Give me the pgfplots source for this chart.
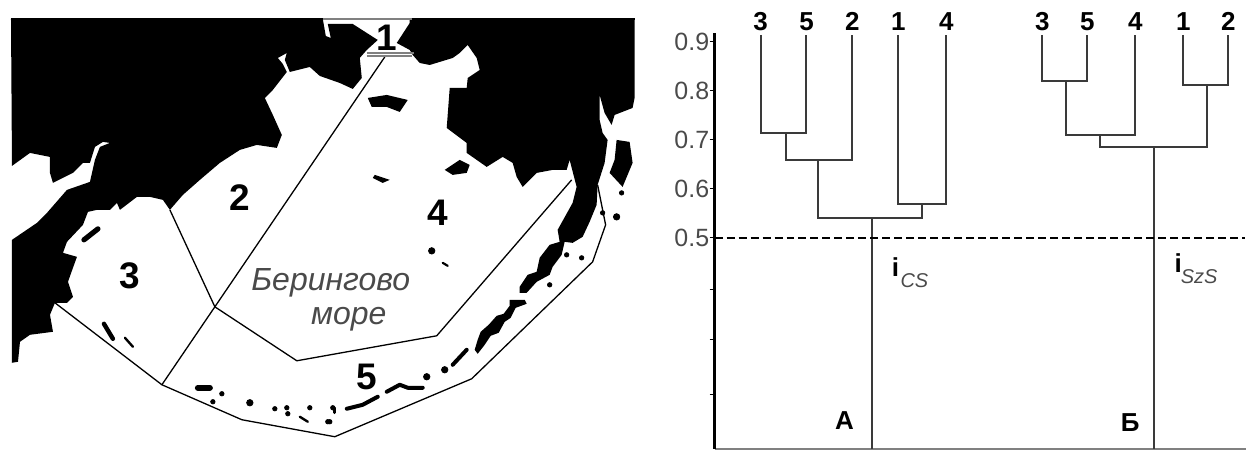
\documentclass[border=0pt]{standalone}
\usepackage{fontspec}
\setmainfont{Liberation Sans}
\usepackage{pgfplots}
\pgfplotsset{compat=1.18}
\definecolor{ln}{HTML}{3A3A3A}
\definecolor{tx}{HTML}{4A4A4A}
\newcommand{\fs}[1]{\fontsize{#1}{#1}\selectfont}
\begin{document}
\begin{tikzpicture}
\begin{axis}[name=map,at={(0pt,0pt)},anchor=south west,scale only axis,width=623.5pt,height=225pt,
 xmin=0,xmax=1247,ymin=0,ymax=450,y dir=reverse,hide axis,clip=false]
\path (axis cs:0,0) rectangle (axis cs:1247,450);
% land
\addplot[fill=black,draw=none] coordinates {
(11,19)(323,19)(326,36)(331,38)(328,24)(353,24)(378,40)(367,50)(360,58)(362,78)(353,89)(340,83)(320,76)
(310,67)(290,72)(285,60)(287,53)(278,58)(283,64)(287,72)(273,90)(265,98)(273,115)(282,135)(277,148)
(257,145)(240,150)(220,163)(200,180)(183,195)(170,210)(163,200)(150,197)(137,197)(120,210)(117,203)
(110,210)(97,210)(88,212)(83,225)(67,242)(63,253)(77,257)(73,268)(68,282)(73,297)(67,303)(55,303)
(50,315)(53,332)(30,335)(20,342)(18,362)(12,363)(12,240)(37,223)(47,213)(67,190)(90,182)(95,160)
(100,147)(110,143)(103,142)(95,147)(90,163)(83,163)(73,173)(53,183)(50,173)(50,157)(30,153)(12,166)} --cycle;
\addplot[fill=black,draw=none] coordinates {
(410,19)(635,19)(635,98)(633,108)(615,115)(612,125)(605,113)(600,95)(600,120)(603,133)(608,140)(605,163)
(598,185)(597,205)(590,222)(583,237)(573,243)(565,242)(562,255)(553,267)(550,275)(537,282)(527,293)(520,293)(520,287)
(528,275)(537,272)(540,258)(550,245)(560,242)(558,230)(573,203)(577,187)(570,160)(567,170)(553,170)
(537,173)(523,187)(517,177)(513,163)(503,157)(487,167)(467,153)(467,143)(447,128)(450,88)(467,88)
(468,78)(480,70)(477,58)(468,45)(460,53)(453,58)(430,65)(420,63)(413,55)(410,50)(397,43)(410,23)} --cycle;
% islands
\addplot[fill=black,draw=none] coordinates {(368,98)(387,95)(408,100)(400,112)(387,107)(372,107)} --cycle;
\addplot[fill=black,draw=none] coordinates {(445,170)(460,160)(470,165)(467,173)(453,175)} --cycle;
\addplot[fill=black,draw=none] coordinates {(375,175)(390,180)(383,183)(373,178)} --cycle;
\addplot[fill=black,draw=none] coordinates {(617,140)(630,142)(633,163)(623,187)(610,173)(615,160)} --cycle;
\addplot[fill=black,draw=none] coordinates {(510,300)(525,300)(527,304)(516,308)(511,318)(505,322)(499,333)(491,336)(485,345)(478,354)(475,350)(478,340)(481,332)(489,325)(497,316)(504,314)(510,306)} --cycle;
\addplot[only marks,mark=*,mark size=1.6pt,black] coordinates {(432,251)(617,217)(445,370)(427,377)(250,403)};
\addplot[only marks,mark=*,mark size=1.1pt,black] coordinates {(622,193)(603,213)(567,255)(582,258)(550,285)(222,394)(213,402)(275,409)(287,408)(288,414)(310,408)(328,422)(333,408)(330,422)};
\pgfplotsset{chain/.style={black,line width=2.3pt,line cap=round,line join=round}}
\addplot[chain,line width=2pt] coordinates {(467,350)(453,365)};
\addplot[chain,line width=2pt] coordinates {(387,392)(400,385)(408,388)(423,388)};
\addplot[chain,line width=2pt] coordinates {(378,397)(363,405)(347,409)};
\addplot[chain,line width=1.5pt] coordinates {(335,408)(335,413)};
\addplot[chain,line width=3pt] coordinates {(198,388)(210,388)};
\addplot[chain,line width=1.2pt] coordinates {(300,417)(308,422)};
\addplot[chain,line width=1.1pt] coordinates {(443,263)(448,266)};
\addplot[chain,line width=2.6pt] coordinates {(84,240)(98,229)};
\addplot[chain,line width=2.2pt] coordinates {(104,324)(113,339)};
\addplot[chain,line width=1.2pt] coordinates {(125,338)(133,347)};
% boundaries
\pgfplotsset{bd/.style={black,line width=0.65pt}}
\addplot[bd] coordinates {(385,57)(215,307)(162,385)};
\addplot[bd] coordinates {(170,210)(215,307)(297,361)(437,336)(572,180)};
\addplot[bd] coordinates {(55,303)(162,385)(242,420)(335,437)(472,379)(593,262)(606,225)(598,185)};
\addplot[gray,line width=0.8pt] coordinates {(323,19)(412,19)};
\addplot[gray,line width=0.7pt] coordinates {(367,53)(414,53)};
\addplot[gray,line width=0.7pt] coordinates {(367,56)(412,56)};
\addplot[black,line width=0.8pt] coordinates {(11,19)(323,19)};
\addplot[black,line width=0.8pt] coordinates {(412,19)(635,19)};
% labels
\node[font=\fs{18.5}\bfseries,text=black] at (axis cs:387,38) {1};
\node[font=\fs{18.5}\bfseries,text=black] at (axis cs:240,198) {2};
\node[font=\fs{18.5}\bfseries,text=black] at (axis cs:130,276) {3};
\node[font=\fs{18.5}\bfseries,text=black] at (axis cs:438,213) {4};
\node[font=\fs{18.5}\bfseries,text=black] at (axis cs:367,377) {5};
\node[font=\fs{16}\itshape,text=tx] at (axis cs:331,283) {Берингово};
\node[font=\fs{16}\itshape,text=tx] at (axis cs:349,319) {море};
\end{axis}
\begin{axis}[at={(357.5pt,0.5pt)},anchor=south west,scale only axis,width=266pt,height=208pt,
 xmin=715,xmax=1247,ymin=0.0694,ymax=0.918,
 axis lines=left,axis line style={-},
 y axis line style={black,line width=1.8pt},x axis line style={gray,line width=0.8pt},
 xtick=\empty,ytick={0.18,0.292,0.394,0.5,0.6,0.7,0.8,0.9},yticklabels={,,,0.5,0.6,0.7,0.8,0.9},
 tick style={black,line width=0.6pt},major tick length=2.5pt,tick align=outside,
 yticklabel style={font=\fs{12.5},text=tx,inner sep=0pt},clip=false]
\pgfplotsset{dn/.style={ln,line width=1pt}}
\addplot[dn] coordinates {(761,0.914)(761,0.714)(807,0.714)(807,0.914)};
\addplot[dn] coordinates {(786,0.714)(786,0.659)(853,0.659)(853,0.914)};
\addplot[dn] coordinates {(899,0.914)(899,0.569)(947,0.569)(947,0.914)};
\addplot[dn] coordinates {(819,0.659)(819,0.541)(923,0.541)(923,0.569)};
\addplot[dn] coordinates {(873,0.541)(873,0.0694)};
\addplot[dn] coordinates {(1043,0.914)(1043,0.820)(1088,0.820)(1088,0.914)};
\addplot[dn] coordinates {(1067,0.820)(1067,0.710)(1136,0.710)(1136,0.914)};
\addplot[dn] coordinates {(1184,0.914)(1184,0.812)(1229,0.812)(1229,0.914)};
\addplot[dn] coordinates {(1101,0.710)(1101,0.686)(1208,0.686)(1208,0.812)};
\addplot[dn] coordinates {(1155,0.686)(1155,0.0694)};
\addplot[black,line width=0.8pt,dash pattern=on 4pt off 2pt] coordinates {(715,0.5)(1246,0.5)};
\foreach \x/\l in {761/3,807/5,853/2,899/1,947/4,1043/3,1088/5,1136/4,1184/1,1229/2}{
 \edef\tmp{\noexpand\node[font=\noexpand\fs{13}\noexpand\bfseries,text=black] at (axis cs:\x,0.942) {\l};}\tmp}
\node[font=\fs{13}\bfseries,text=black] at (axis cs:845,0.126) {А};
\node[font=\fs{13}\bfseries,text=black] at (axis cs:1131,0.122) {Б};
\node[font=\fs{13}\bfseries,text=black] at (axis cs:896,0.441) {i};
\node[font=\fs{10}\itshape,text=tx] at (axis cs:915,0.412) {CS};
\node[font=\fs{13}\bfseries,text=black] at (axis cs:1179,0.449) {i};
\node[font=\fs{10}\itshape,text=tx] at (axis cs:1200,0.420) {SzS};
\end{axis}
\end{tikzpicture}
\end{document}
